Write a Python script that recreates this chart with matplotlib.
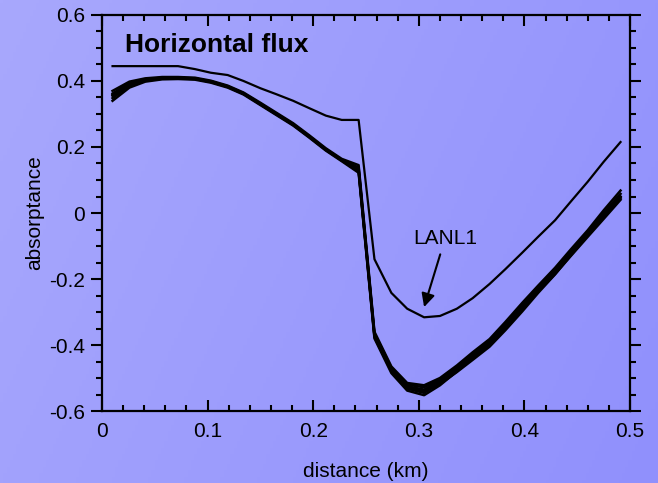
import numpy as np
import matplotlib
matplotlib.use('Agg')
import matplotlib.pyplot as plt
from matplotlib.ticker import MultipleLocator, FuncFormatter

plt.rcParams['font.family'] = ['Liberation Sans', 'DejaVu Sans']
plt.rcParams['axes.unicode_minus'] = False

# distance (km) of the model grid points
distance = [0.010, 0.026, 0.041, 0.057, 0.072, 0.088, 0.103, 0.119, 0.134, 0.150,
            0.165, 0.181, 0.196, 0.212, 0.227, 0.243, 0.258, 0.274, 0.289, 0.305,
            0.320, 0.336, 0.351, 0.367, 0.382, 0.398, 0.413, 0.429, 0.444, 0.460,
            0.475, 0.491]

# LANL1 run (the odd one out)
lanl1 = [0.445, 0.445, 0.445, 0.445, 0.445, 0.436, 0.425, 0.418, 0.400, 0.378,
         0.360, 0.340, 0.318, 0.295, 0.282, 0.282, -0.140, -0.242, -0.290, -0.316,
         -0.312, -0.290, -0.258, -0.215, -0.170, -0.120, -0.072, -0.022, 0.035, 0.095,
         0.155, 0.215]

# the other runs, bundled together
run_a = [0.370, 0.398, 0.408, 0.412, 0.412, 0.410, 0.401, 0.386, 0.365, 0.334,
         0.304, 0.272, 0.236, 0.196, 0.164, 0.145, -0.360, -0.465, -0.515, -0.522,
         -0.500, -0.462, -0.422, -0.382, -0.330, -0.272, -0.220, -0.166, -0.110, -0.052,
         0.008, 0.068]
run_b = [0.340, 0.380, 0.398, 0.405, 0.406, 0.404, 0.395, 0.380, 0.359, 0.327,
         0.297, 0.265, 0.229, 0.189, 0.157, 0.122, -0.380, -0.485, -0.538, -0.552,
         -0.522, -0.480, -0.440, -0.398, -0.350, -0.292, -0.238, -0.185, -0.130, -0.072,
         -0.018, 0.040]
run_c = [0.362, 0.394, 0.405, 0.410, 0.410, 0.408, 0.399, 0.384, 0.363, 0.331,
         0.301, 0.269, 0.233, 0.193, 0.161, 0.138, -0.365, -0.470, -0.520, -0.528,
         -0.505, -0.468, -0.428, -0.386, -0.336, -0.278, -0.224, -0.170, -0.116, -0.058,
         0.000, 0.058]
run_d = [0.348, 0.386, 0.401, 0.407, 0.408, 0.406, 0.397, 0.382, 0.361, 0.329,
         0.299, 0.267, 0.231, 0.191, 0.159, 0.126, -0.375, -0.480, -0.532, -0.545,
         -0.515, -0.474, -0.434, -0.394, -0.344, -0.286, -0.232, -0.180, -0.125, -0.066,
         -0.010, 0.045]
run_e = [0.358, 0.392, 0.404, 0.409, 0.409, 0.407, 0.398, 0.383, 0.362, 0.330,
         0.300, 0.268, 0.232, 0.192, 0.160, 0.132, -0.372, -0.478, -0.528, -0.540,
         -0.518, -0.482, -0.445, -0.405, -0.355, -0.298, -0.242, -0.186, -0.128, -0.068,
         -0.012, 0.048]
run_f = [0.355, 0.390, 0.403, 0.408, 0.409, 0.407, 0.398, 0.383, 0.362, 0.330,
         0.300, 0.268, 0.232, 0.192, 0.160, 0.130, -0.370, -0.475, -0.525, -0.535,
         -0.510, -0.470, -0.430, -0.390, -0.340, -0.282, -0.228, -0.175, -0.120, -0.062,
         -0.005, 0.050]

bundle = [run_a, run_b, run_c, run_d, run_e, run_f]

fig = plt.figure(figsize=(6.58, 4.83), dpi=100)

# lavender-blue gradient behind everything
bg = fig.add_axes([0, 0, 1, 1], zorder=-1)
u = np.linspace(0, 1, 200)
v = np.linspace(0, 1, 150)[:, None]
t = 0.75 * u[None, :] + 0.25 * v
c0 = np.array([168, 168, 253]) / 255
c1 = np.array([144, 144, 252]) / 255
img = c0[None, None, :] + (c1 - c0)[None, None, :] * t[:, :, None]
bg.imshow(img, aspect='auto', extent=[0, 1, 0, 1], origin='upper')
bg.set_axis_off()

ax = fig.add_axes([0.155, 0.149, 0.8025, 0.820])
ax.set_facecolor('none')

for run in bundle:
    ax.plot(distance, run, color='k', lw=1.8)
ax.plot(distance, lanl1, color='k', lw=1.6)

ax.set_xlim(0, 0.5)
ax.set_ylim(-0.6, 0.6)
ax.xaxis.set_major_locator(MultipleLocator(0.1))
ax.xaxis.set_minor_locator(MultipleLocator(0.02))
ax.yaxis.set_major_locator(MultipleLocator(0.2))
ax.yaxis.set_minor_locator(MultipleLocator(0.05))
fmt = FuncFormatter(lambda val, pos: '0' if abs(val) < 1e-9 else f'{val:g}')
ax.xaxis.set_major_formatter(fmt)
ax.yaxis.set_major_formatter(fmt)

for s in ax.spines.values():
    s.set_linewidth(1.6)

ax.tick_params(axis='y', which='both', left=True, right=True, direction='out',
               width=1.5, labelsize=15, pad=4)
ax.tick_params(axis='y', which='major', length=8)
ax.tick_params(axis='y', which='minor', length=4)
ax.tick_params(axis='x', which='both', bottom=True, top=True, direction='in',
               width=1.5, labelsize=15, pad=8)
ax.tick_params(axis='x', which='major', length=8)
ax.tick_params(axis='x', which='minor', length=4)

ax.set_xlabel('distance (km)', fontsize=15, labelpad=15)
ax.set_ylabel('absorptance', fontsize=15, labelpad=4)

ax.text(0.022, 0.488, 'Horizontal flux', fontsize=19, fontweight='bold',
        ha='left', va='baseline')

ax.annotate('LANL1', xy=(0.305, -0.285), xytext=(0.325, -0.076),
            fontsize=15, ha='center', va='center',
            arrowprops=dict(arrowstyle='-|>', color='k', lw=1.5,
                            mutation_scale=20, shrinkA=3, shrinkB=0))

plt.savefig('out.png', dpi=100)
